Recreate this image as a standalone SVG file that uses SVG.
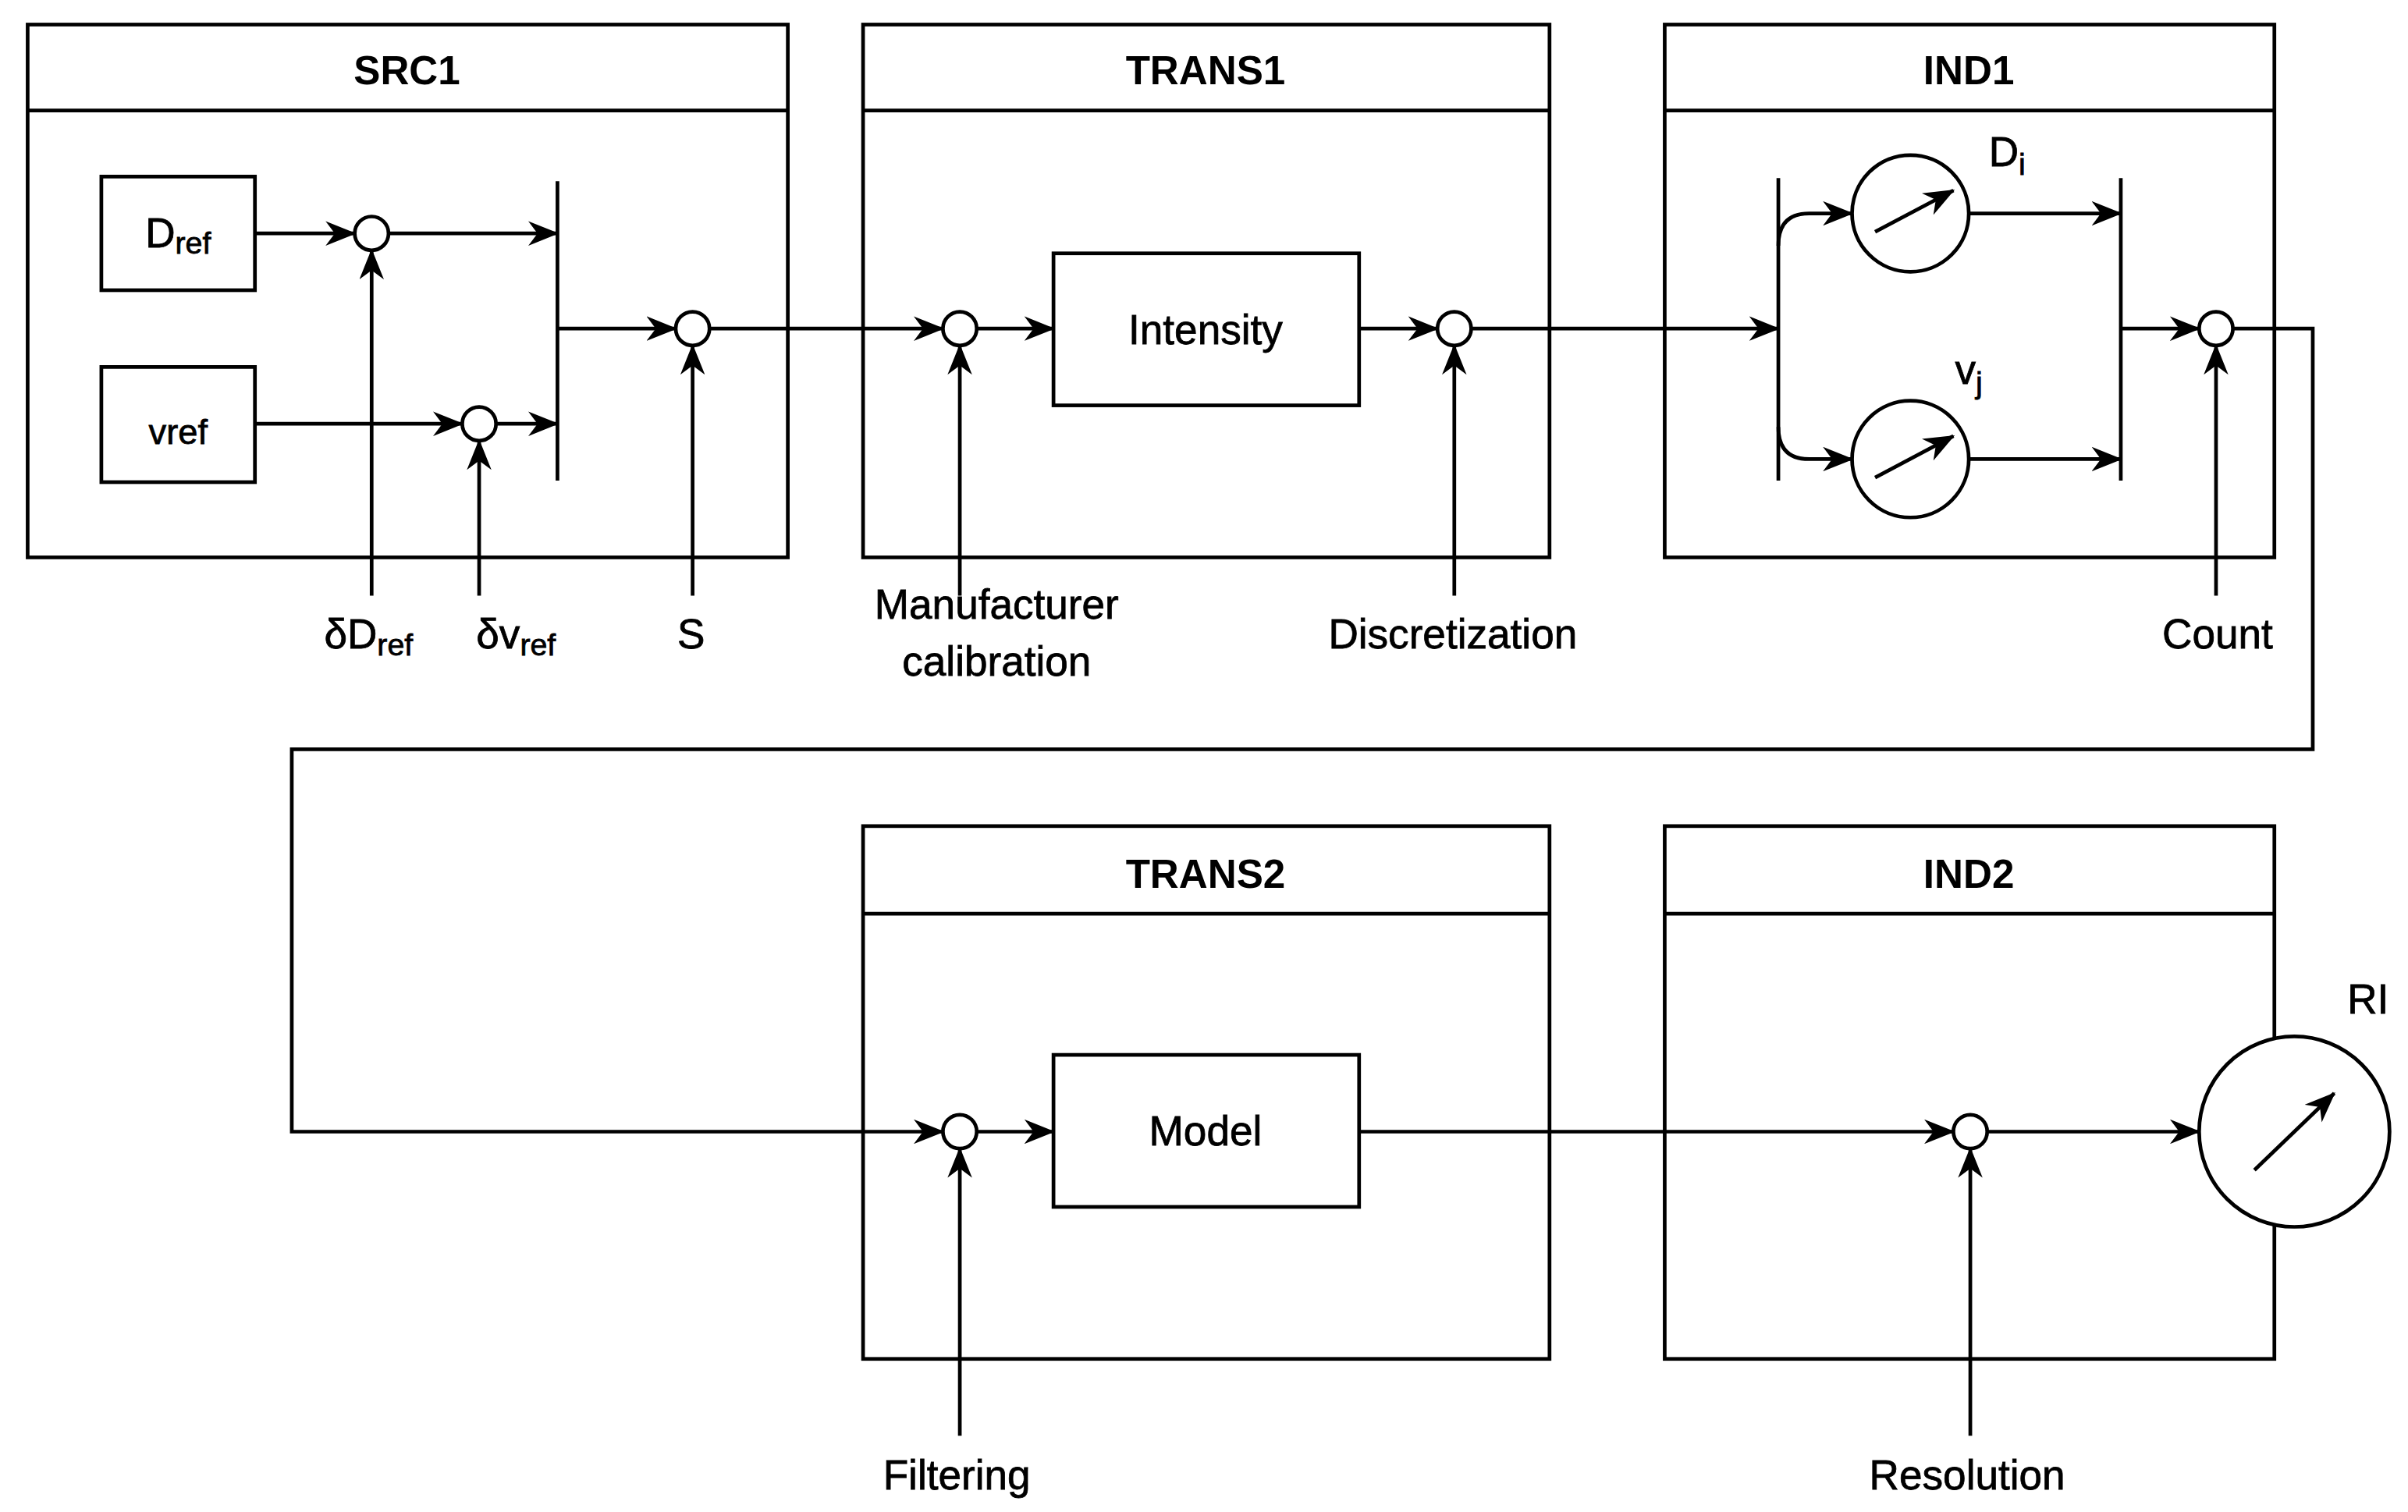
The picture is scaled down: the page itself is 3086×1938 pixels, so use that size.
<svg xmlns="http://www.w3.org/2000/svg" width="3086" height="1938" viewBox="0 0 3086 1938">
<defs>
<style>
.b{fill:#fff;stroke:#000;stroke-width:2.4}
.l{fill:none;stroke:#000;stroke-width:2.4}
.a{fill:none;stroke:#000;stroke-width:2.4;marker-end:url(#ar)}
.t{font-family:"Liberation Sans",Arial,sans-serif;font-size:26px;font-weight:bold;text-anchor:middle}
.x{font-family:"Liberation Sans",Arial,sans-serif;font-size:27px;text-anchor:middle;stroke:#000;stroke-width:0.4}
.s{font-size:20px}
</style>
<marker id="ar" viewBox="0 0 20 16" markerWidth="20" markerHeight="16" refX="19" refY="8" orient="auto" markerUnits="userSpaceOnUse">
<path d="M0,0 L20,8 L0,16 L6,8 z" fill="#000"/>
</marker>
</defs>
<rect width="3086" height="1938" fill="#fff"/>
<g transform="scale(1.9681)">
<g id="SRC1"><rect class="b" x="18" y="16" width="495" height="347"/><line class="l" x1="18" y1="72" x2="513" y2="72"/><text class="t" x="265" y="55">SRC1</text></g>
<g id="TRANS1"><rect class="b" x="562" y="16" width="447" height="347"/><line class="l" x1="562" y1="72" x2="1009" y2="72"/><text class="t" x="785" y="55">TRANS1</text></g>
<g id="IND1"><rect class="b" x="1084" y="16" width="397" height="347"/><line class="l" x1="1084" y1="72" x2="1481" y2="72"/><text class="t" x="1282" y="55">IND1</text></g>
<g id="TRANS2"><rect class="b" x="562" y="538" width="447" height="347"/><line class="l" x1="562" y1="595" x2="1009" y2="595"/><text class="t" x="785" y="578">TRANS2</text></g>
<g id="IND2"><rect class="b" x="1084" y="538" width="397" height="347"/><line class="l" x1="1084" y1="595" x2="1481" y2="595"/><text class="t" x="1282" y="578">IND2</text></g>

<g id="connectors">
<line class="a" x1="166" y1="152" x2="231" y2="152"/>
<line class="a" x1="253" y1="152" x2="363" y2="152"/>
<line class="a" x1="166" y1="276" x2="301" y2="276"/>
<line class="a" x1="323" y1="276" x2="363" y2="276"/>
<line class="a" x1="242" y1="388" x2="242" y2="163"/>
<line class="a" x1="312" y1="388" x2="312" y2="287"/>
<line class="a" x1="363" y1="214" x2="440" y2="214"/>
<line class="a" x1="451" y1="388" x2="451" y2="225"/>
<line class="a" x1="462" y1="214" x2="614" y2="214"/>
<line class="a" x1="625" y1="388" x2="625" y2="225"/>
<line class="a" x1="636" y1="214" x2="686" y2="214"/>
<line class="a" x1="885" y1="214" x2="936" y2="214"/>
<line class="a" x1="947" y1="388" x2="947" y2="225"/>
<line class="a" x1="958" y1="214" x2="1158" y2="214"/>
<path class="a" d="M1158,160 Q1158,139 1178,139 L1206,139"/>
<path class="a" d="M1158,278 Q1158,299 1178,299 L1206,299"/>
<line class="a" x1="1282" y1="139" x2="1381" y2="139"/>
<line class="a" x1="1282" y1="299" x2="1381" y2="299"/>
<line class="a" x1="1381" y1="214" x2="1432" y2="214"/>
<line class="a" x1="1443" y1="388" x2="1443" y2="225"/>
<path class="a" d="M1454,214 L1506,214 L1506,488 L190,488 L190,737 L614,737"/>
<line class="a" x1="625" y1="935" x2="625" y2="748"/>
<line class="a" x1="636" y1="737" x2="686" y2="737"/>
<line class="a" x1="885" y1="737" x2="1272" y2="737"/>
<line class="a" x1="1283" y1="935" x2="1283" y2="748"/>
<line class="a" x1="1294" y1="737" x2="1432" y2="737"/>
</g>

<g id="bars">
<line class="l" x1="363" y1="118" x2="363" y2="313"/>
<line class="l" x1="1158" y1="116" x2="1158" y2="313"/>
<line class="l" x1="1381" y1="116" x2="1381" y2="313"/>
</g>

<g id="Dref"><rect class="b" x="66" y="115" width="100" height="74"/><text class="x" x="116" y="161">D<tspan class="s" dy="4">ref</tspan></text></g>
<g id="vref"><rect class="b" x="66" y="239" width="100" height="75"/><text class="x" x="116" y="289" style="font-size:23px">vref</text></g>
<g id="sum1"><circle class="b" cx="242" cy="152" r="11"/></g>
<g id="sum2"><circle class="b" cx="312" cy="276" r="11"/></g>
<g id="sum3"><circle class="b" cx="451" cy="214" r="11"/></g>
<g id="sum4"><circle class="b" cx="625" cy="214" r="11"/></g>
<g id="Intensity"><rect class="b" x="686" y="165" width="199" height="99"/><text class="x" x="785" y="224">Intensity</text></g>
<g id="sum5"><circle class="b" cx="947" cy="214" r="11"/></g>
<g id="gaugeD"><circle class="b" cx="1244" cy="139" r="38"/><line class="a" x1="1221" y1="151" x2="1272" y2="124"/><text class="x" x="1307" y="108">D<tspan class="s" dy="6">i</tspan></text></g>
<g id="gaugeV"><circle class="b" cx="1244" cy="299" r="38"/><line class="a" x1="1221" y1="311" x2="1272" y2="284"/><text class="x" x="1282" y="250">v<tspan class="s" dy="6">j</tspan></text></g>
<g id="sum6"><circle class="b" cx="1443" cy="214" r="11"/></g>
<g id="sum7"><circle class="b" cx="625" cy="737" r="11"/></g>
<g id="Model"><rect class="b" x="686" y="687" width="199" height="99"/><text class="x" x="785" y="746">Model</text></g>
<g id="sum8"><circle class="b" cx="1283" cy="737" r="11"/></g>
<g id="RI"><circle class="b" cx="1494" cy="737" r="62"/><line class="a" x1="1468" y1="762" x2="1520" y2="712"/><text class="x" x="1542" y="660">RI</text></g>

<g id="labels">
<text class="x" x="240" y="422">δD<tspan class="s" dy="5">ref</tspan></text>
<text class="x" x="336" y="422">δv<tspan class="s" dy="5">ref</tspan></text>
<text class="x" x="450" y="422">S</text>
<text class="x" x="649" y="403">Manufacturer</text>
<text class="x" x="649" y="440">calibration</text>
<text class="x" x="946" y="422">Discretization</text>
<text class="x" x="1444" y="422">Count</text>
<text class="x" x="623" y="970">Filtering</text>
<text class="x" x="1281" y="970">Resolution</text>
</g>
</g>
</svg>
